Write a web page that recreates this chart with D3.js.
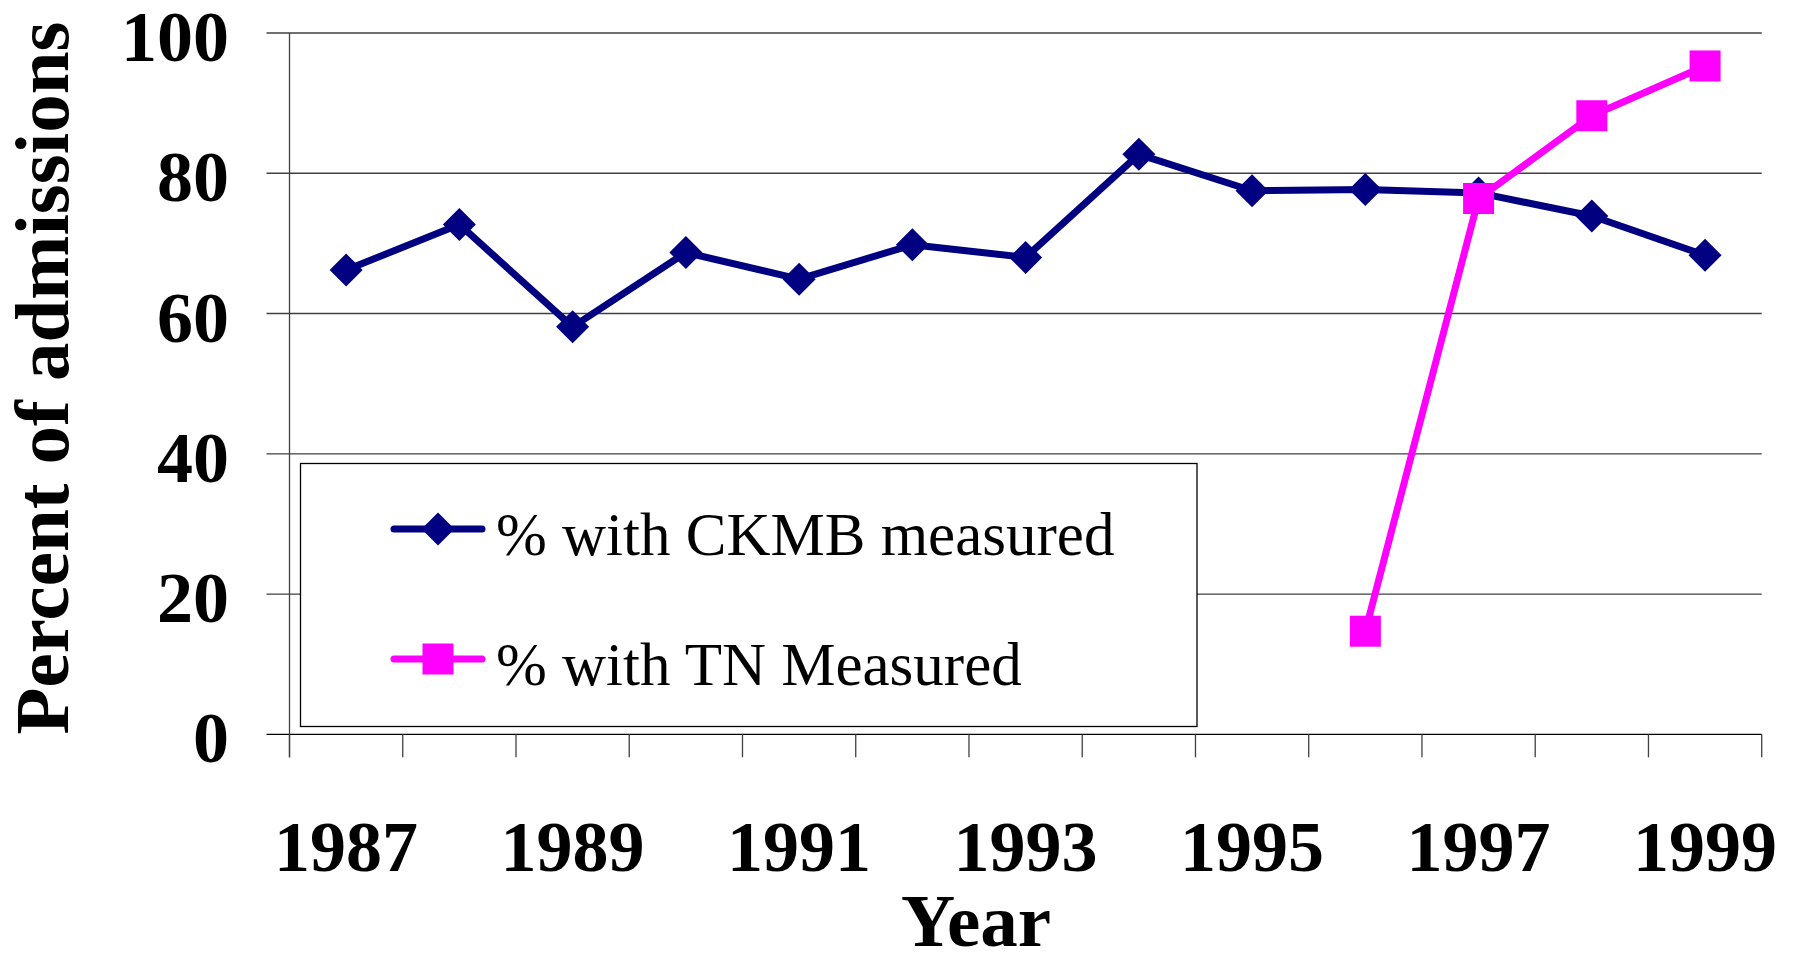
<!DOCTYPE html>
<html><head><meta charset="utf-8">
<script src="https://cdn.jsdelivr.net/npm/d3@7"></script>
<style>html,body{margin:0;padding:0;background:#fff;}svg{display:block;}</style>
</head><body>
<svg id="chart" width="1793" height="954"></svg>
<script>
const years = [1987,1988,1989,1990,1991,1992,1993,1994,1995,1996,1997,1998,1999];
const ckmbValues = [66.2,72.7,58.1,68.7,64.9,69.8,68.0,82.7,77.5,77.7,77.2,73.9,68.3];
const tnYears = [1996,1997,1998,1999];
const tnValues = [14.7,76.4,88.2,95.3];
const yTicks = [0,20,40,60,80,100];
const xTickLabels = [1987,1989,1991,1993,1995,1997,1999];
const seriesNames = ["% with CKMB measured","% with TN Measured"];
const colors = ["#000080","#FF00FF"];

(function(){
const svg = d3.select("#chart");
const font = "'Liberation Serif','Times New Roman',serif";
const pLeft = 289.5, pRight = 1761.7, pTop = 33, pBottom = 734.3;
const x = d3.scaleBand().domain(years).range([pLeft, pRight]).padding(0);
const y = d3.scaleLinear().domain([0,100]).range([pBottom, pTop]);
const gridColor = "#404040";

svg.append("g").selectAll("line").data(yTicks).join("line")
  .attr("x1", pLeft - 23).attr("x2", pRight)
  .attr("y1", d => y(d)).attr("y2", d => y(d))
  .attr("stroke", d => d === 0 ? "#000" : gridColor).attr("stroke-width", 1.3);
svg.append("line").attr("x1", pLeft).attr("x2", pLeft).attr("y1", pTop).attr("y2", pBottom + 23)
  .attr("stroke", gridColor).attr("stroke-width", 1.3);
const bounds = years.map(d => x(d)).concat([x(years[years.length-1]) + x.bandwidth()]);
svg.append("g").selectAll("line").data(bounds).join("line")
  .attr("x1", d => d).attr("x2", d => d).attr("y1", pBottom).attr("y2", pBottom + 23)
  .attr("stroke", gridColor).attr("stroke-width", 1.3);

svg.append("g").selectAll("text").data(yTicks).join("text")
  .attr("x", 229).attr("y", d => y(d) + 28)
  .attr("text-anchor", "end").attr("font-family", font).attr("font-weight", "bold")
  .attr("font-size", 72).attr("fill", "#000").text(d => d);
svg.append("g").selectAll("text").data(xTickLabels).join("text")
  .attr("x", d => x(d) + x.bandwidth()/2).attr("y", 871)
  .attr("text-anchor", "middle").attr("font-family", font).attr("font-weight", "bold")
  .attr("font-size", 72).attr("fill", "#000").text(d => d);
svg.append("text").attr("x", 976).attr("y", 946).attr("text-anchor", "middle")
  .attr("font-family", font).attr("font-weight", "bold").attr("font-size", 75).text("Year");
svg.append("text").attr("transform", "translate(68,378) rotate(-90)").attr("text-anchor", "middle")
  .attr("font-family", font).attr("font-weight", "bold").attr("font-size", 77).text("Percent of admissions");

const lg = svg.append("g");
lg.append("rect").attr("x", 300.5).attr("y", 463.5).attr("width", 896.5).attr("height", 263)
  .attr("fill", "#fff").attr("stroke", "#000").attr("stroke-width", 1.3);

const diamond = s => `M0,${-s}L${s},0L0,${s}L${-s},0Z`;
const cx = d => x(d) + x.bandwidth()/2;

const line = d3.line().x(d => cx(d[0])).y(d => y(d[1]));
const ck = years.map((yr,i) => [yr, ckmbValues[i]]);
svg.append("path").datum(ck).attr("d", line).attr("fill", "none")
  .attr("stroke", colors[0]).attr("stroke-width", 7).attr("stroke-linejoin", "round");
svg.append("g").selectAll("path").data(ck).join("path")
  .attr("transform", d => `translate(${cx(d[0])},${y(d[1])})`)
  .attr("d", diamond(16.5)).attr("fill", colors[0]);

const tn = tnYears.map((yr,i) => [yr, tnValues[i]]);
svg.append("path").datum(tn).attr("d", line).attr("fill", "none")
  .attr("stroke", colors[1]).attr("stroke-width", 7).attr("stroke-linejoin", "round");
svg.append("g").selectAll("rect").data(tn).join("rect")
  .attr("x", d => cx(d[0]) - 15.5).attr("y", d => y(d[1]) - 15.5)
  .attr("width", 31).attr("height", 31).attr("fill", colors[1]);

const rows = [529, 659];
seriesNames.forEach((name, i) => {
  lg.append("line").attr("x1", 394).attr("x2", 482).attr("y1", rows[i]).attr("y2", rows[i])
    .attr("stroke", colors[i]).attr("stroke-width", 7).attr("stroke-linecap", "round");
  if (i === 0) {
    lg.append("path").attr("transform", `translate(438,${rows[i]})`).attr("d", diamond(16.5)).attr("fill", colors[i]);
  } else {
    lg.append("rect").attr("x", 438 - 15.5).attr("y", rows[i] - 15.5).attr("width", 31).attr("height", 31).attr("fill", colors[i]);
  }
  lg.append("text").attr("x", 496).attr("y", rows[i] + 26).attr("font-family", font)
    .attr("font-size", 61).attr("fill", "#000").text(name);
});
})();
</script>
</body></html>
